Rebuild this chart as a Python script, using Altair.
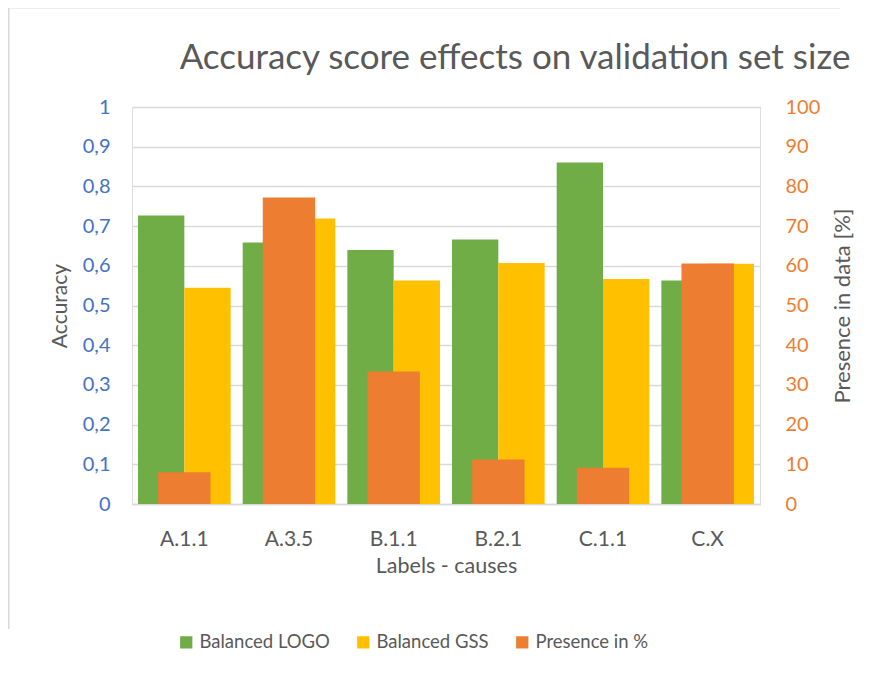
import altair as alt
import pandas as pd

categories = ["A.1.1", "A.3.5", "B.1.1", "B.2.1", "C.1.1", "C.X"]
balanced_logo = [0.727, 0.659, 0.640, 0.666, 0.860, 0.563]
balanced_gss = [0.545, 0.719, 0.563, 0.607, 0.567, 0.605]
presence_pct = [8.0, 77.2, 33.4, 11.2, 9.1, 60.6]

series_names = ["Balanced LOGO", "Balanced GSS", "Presence in %"]
series_colors = ["#70AD47", "#FFC000", "#ED7D31"]

acc_rows = []
for c, a, b in zip(categories, balanced_logo, balanced_gss):
    acc_rows.append({"cat": c, "series": "Balanced LOGO", "value": a})
    acc_rows.append({"cat": c, "series": "Balanced GSS", "value": b})
acc_df = pd.DataFrame(acc_rows)
pres_df = pd.DataFrame({"cat": categories, "series": "Presence in %", "value": presence_pct})

FONT = "Lato"
GREY = "#595959"
W, H = 628, 397
PAD = {"left": 124, "top": 99, "right": 108, "bottom": 160}

color = alt.Color(
    "series:N",
    scale=alt.Scale(domain=series_names, range=series_colors),
    sort=series_names,
    legend=alt.Legend(
        title=None, orient="none", direction="horizontal",
        legendX=45, legendY=526, symbolType="square", symbolSize=150,
        symbolStrokeWidth=0, labelFontSize=18.5, labelFont=FONT, labelColor=GREY,
        columnPadding=24, labelOffset=4,
    ),
)

xenc = alt.X(
    "cat:N", sort=categories,
    scale=alt.Scale(paddingInner=0.115, paddingOuter=0.0575),
    axis=alt.Axis(
        title="Labels - causes", labelAngle=0, labelFontSize=21, labelFont=FONT,
        labelColor=GREY, titleFontSize=21.5, titleFont=FONT, titleColor=GREY,
        titleFontWeight="normal", labelPadding=24, titlePadding=6, ticks=False,
        domainColor="#D9D9D9", domainWidth=1.5,
    ),
)

frame_df = pd.DataFrame({"k": [0]})
border_left = alt.Chart(frame_df).mark_rule(color="#D9D9D9", strokeWidth=1.5).encode(
    x=alt.value(-123.2), y=alt.value(-99.2), y2=alt.value(H + 125)
)
border_top = alt.Chart(frame_df).mark_rule(color="#D9D9D9", strokeWidth=1.5).encode(
    x=alt.value(-123.2), x2=alt.value(W + 80), y=alt.value(-99.2)
)

acc = alt.Chart(acc_df).mark_bar().encode(
    x=xenc,
    xOffset=alt.XOffset("series:N", sort=series_names[:2],
                        scale=alt.Scale(paddingInner=0, paddingOuter=0)),
    y=alt.Y(
        "value:Q", scale=alt.Scale(domain=[0, 1], nice=False),
        axis=alt.Axis(
            title="Accuracy", values=[i / 10 for i in range(11)],
            labelExpr="replace(format(datum.value, '.1~f'), '.', ',')",
            labelFontSize=20, labelFont=FONT, labelColor="#4472C4",
            titleFontSize=21, titleFont=FONT, titleColor=GREY, titleFontWeight="normal",
            labelPadding=22, titlePadding=12, ticks=False, domain=False,
            gridColor="#D9D9D9", gridWidth=1.5,
        ),
    ),
    color=color,
)

pres = alt.Chart(pres_df).mark_bar(size=52.4).encode(
    x=xenc,
    y=alt.Y(
        "value:Q", scale=alt.Scale(domain=[0, 100], nice=False),
        axis=alt.Axis(
            title="Presence in data [%]", orient="right", values=list(range(0, 101, 10)),
            labelFontSize=20, labelFont=FONT, labelColor="#ED7D31",
            titleFontSize=22, titleFont=FONT, titleColor=GREY, titleFontWeight="normal",
            titleAngle=270, titleBaseline="top",
            labelPadding=25, titlePadding=13, ticks=False, domain=False, grid=False,
        ),
    ),
    color=color,
)

chart = alt.layer(border_left, border_top, acc, pres).resolve_scale(y="independent").properties(
    width=W, height=H,
    autosize=alt.AutoSizeParams(type="none"),
    padding=PAD,
    title=alt.TitleParams(
        "Accuracy score effects on validation set size",
        fontSize=35, font=FONT, color=GREY, fontWeight="normal",
        anchor="middle", dx=69, dy=69, offset=0,
    ),
).configure_view(stroke=None).configure(background="white")

chart.save("out.html", embed_options={"renderer": "svg", "actions": False})
